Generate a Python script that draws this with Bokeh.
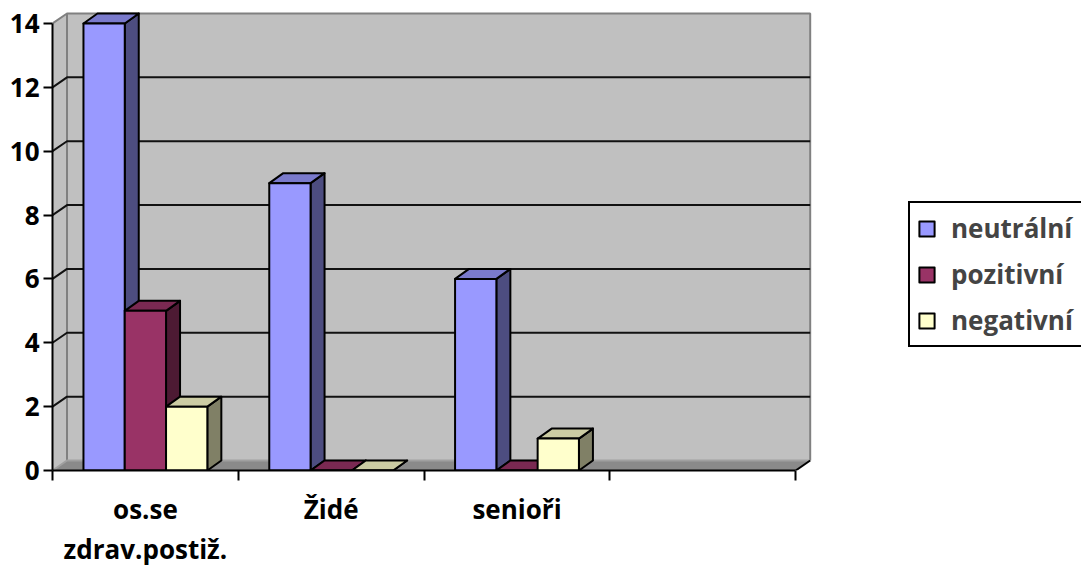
from bokeh.plotting import figure
from bokeh.models import Range1d, FixedTicker, Legend, LegendItem
from bokeh.embed import file_html
from bokeh.resources import INLINE

# ---- data ----
categories = ["os.se\nzdrav.postiž.", "Židé", "senioři", ""]
series_names = ["neutrální", "pozitivní", "negativní"]
neutralni = [14, 9, 6]
pozitivni = [5, 0, 0]
negativni = [2, 0, 1]
y_ticks = [0, 2, 4, 6, 8, 10, 12, 14]

series_values = [neutralni, pozitivni, negativni]

# ---- styles ----
FRONT = ["#9999FF", "#993366", "#FFFFCC"]
TOP = ["#7A7ACC", "#7A2952", "#CCCCA3"]
SIDE = ["#4D4D80", "#4D1A33", "#808066"]
WALL = "#C0C0C0"
FLOOR = "#8A8A8A"
EDGE = "#808080"
FONT = "Open Sans"
FS = "26px"

W, H = 1081, 566
BL, BB = 52, 96
PX_X = 185.8   # pixels per category slot
PX_Y = 31.93   # pixels per value unit
frame_w = W - BL
frame_h = H - BB

p = figure(frame_width=frame_w, frame_height=frame_h,
           x_range=Range1d(0, frame_w / PX_X),
           y_range=Range1d(0, frame_h / PX_Y),
           output_backend="svg", toolbar_location=None)
p.min_border = 0
p.min_border_left = BL
p.min_border_bottom = BB
p.min_border_top = 0
p.min_border_right = 0
p.outline_line_color = None
p.xgrid.visible = False
p.ygrid.visible = False
p.background_fill_color = "white"
p.border_fill_color = "white"

n = len(categories)
ymax = max(y_ticks)
dxw = 14.5 / PX_X
dyw = 10.0 / PX_Y
dxb = 14.0 / PX_X
dyb = 10.0 / PX_Y

# back wall
p.patch([dxw, n + dxw, n + dxw, dxw], [dyw, dyw, ymax + dyw, ymax + dyw],
        fill_color=WALL, line_color=None)
# left wall
p.patch([0, dxw, dxw, 0], [0, dyw, ymax + dyw, ymax],
        fill_color=WALL, line_color=None)
# floor
p.patch([0, n, n + dxw, dxw], [0, 0, dyw, dyw], fill_color=FLOOR, line_color=None)

# wall edges
p.line([0, dxw, n + dxw, n + dxw], [ymax, ymax + dyw, ymax + dyw, dyw],
       line_color=EDGE, line_width=2)
p.line([dxw, dxw], [dyw, ymax + dyw], line_color=EDGE, line_width=2)
p.line([0, dxw, n + dxw], [0, dyw, dyw], line_color="#A0A0A0", line_width=2)
p.line([n, n + dxw], [0, dyw], line_color="black", line_width=2)

# gridlines
grid_xs, grid_ys = [], []
for t in y_ticks[1:-1]:
    grid_xs.append([0, dxw, n + dxw])
    grid_ys.append([t, t + dyw, t + dyw])
p.multi_line(grid_xs, grid_ys, line_color="#111111", line_width=2)

# bars
w = 1 / 4.5
legend_items = []
for s, vals in enumerate(series_values):
    fx0, fx1, ftop = [], [], []
    side_xs, side_ys, top_xs, top_ys = [], [], [], []
    for c, v in enumerate(vals):
        x0 = c + 0.75 * w + s * w
        x1 = x0 + w
        fx0.append(x0)
        fx1.append(x1)
        ftop.append(v)
        side_xs.append([x1, x1 + dxb, x1 + dxb, x1])
        side_ys.append([0, dyb, v + dyb, v])
        top_xs.append([x0, x0 + dxb, x1 + dxb, x1])
        top_ys.append([v, v + dyb, v + dyb, v])
    p.patches(side_xs, side_ys, fill_color=SIDE[s], line_color="black",
              line_width=2, line_join="round")
    p.patches(top_xs, top_ys, fill_color=TOP[s], line_color="black",
              line_width=2, line_join="round")
    r = p.quad(left=fx0, right=fx1, bottom=[0] * len(vals), top=ftop,
               fill_color=FRONT[s], line_color="black", line_width=2,
               line_join="round")
    legend_items.append(LegendItem(label=series_names[s], renderers=[r]))

# y axis
p.yaxis.ticker = FixedTicker(ticks=y_ticks)
p.yaxis.bounds = (0, ymax)
p.yaxis.axis_line_width = 2
p.yaxis.major_tick_line_width = 2
p.yaxis.major_tick_out = 9
p.yaxis.major_tick_in = 0
p.yaxis.minor_tick_out = 0
p.yaxis.minor_tick_in = 0
p.yaxis.major_label_standoff = 4
p.yaxis.major_label_text_font = FONT
p.yaxis.major_label_text_font_style = "bold"
p.yaxis.major_label_text_font_size = FS
p.yaxis.major_label_text_color = "black"

# x axis: labels at category centres, tick marks at category boundaries
label_ticks = [c + 0.5 for c, name in enumerate(categories) if name]
p.xaxis.ticker = FixedTicker(ticks=label_ticks, minor_ticks=list(range(n + 1)))
p.xaxis.major_label_overrides = {c + 0.5: name for c, name in enumerate(categories) if name}
p.xaxis.bounds = (0, n)
p.xaxis.axis_line_width = 2
p.xaxis.major_tick_out = 0
p.xaxis.major_tick_in = 0
p.xaxis.minor_tick_out = 10
p.xaxis.minor_tick_in = 0
p.xaxis.minor_tick_line_width = 2
p.xaxis.minor_tick_line_color = "black"
p.xaxis.major_label_standoff = 10
p.xaxis.major_label_text_font = FONT
p.xaxis.major_label_text_font_style = "bold"
p.xaxis.major_label_text_font_size = FS
p.xaxis.major_label_text_color = "black"
p.xaxis.major_label_text_line_height = 1.13

legend = Legend(items=legend_items, location=(856, 123))
legend.border_line_color = "black"
legend.border_line_width = 2
legend.border_line_alpha = 1
legend.background_fill_color = "white"
legend.background_fill_alpha = 1
legend.label_text_font = FONT
legend.label_text_font_style = "bold"
legend.label_text_font_size = FS
legend.glyph_width = 19
legend.glyph_height = 19
legend.label_height = 19
legend.label_width = 150
legend.label_standoff = 15
legend.spacing = 10
legend.padding = 7
legend.margin = 0
p.add_layout(legend)

open("out.html", "w").write(file_html(p, INLINE))
